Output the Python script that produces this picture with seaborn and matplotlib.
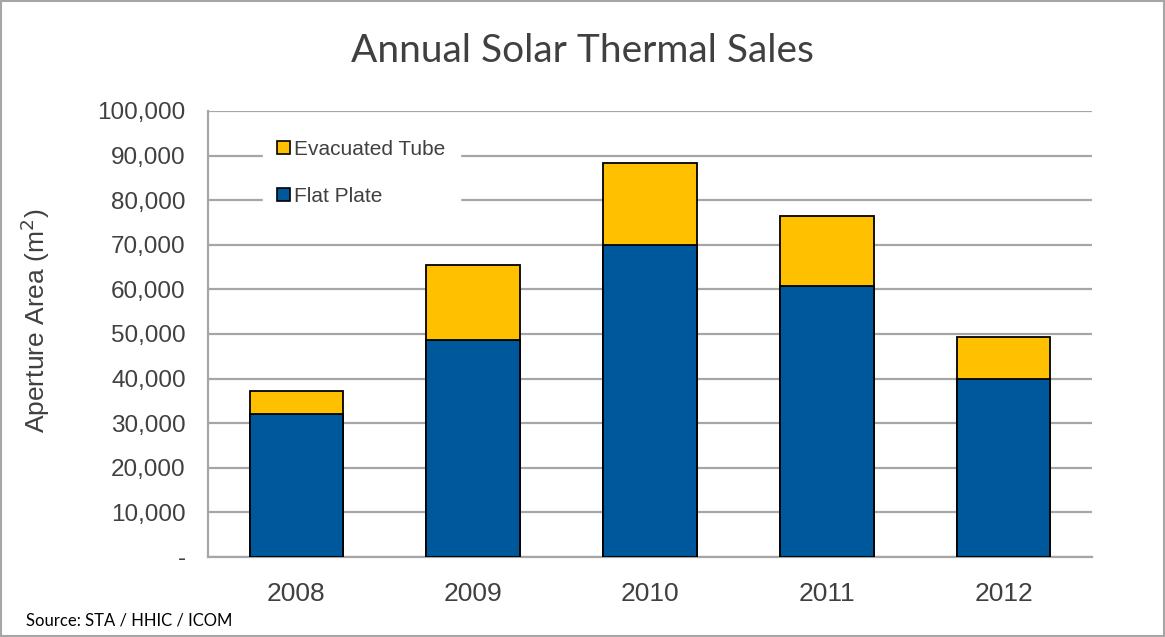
import matplotlib
matplotlib.use('Agg')
import matplotlib.pyplot as plt
import matplotlib.ticker as mticker
from matplotlib.patches import Patch
import seaborn as sns
import pandas as pd
import numpy as np

years = ['2008', '2009', '2010', '2011', '2012']
flat_plate = [32100, 48600, 70000, 60700, 39800]
evacuated_tube = [5200, 16900, 18300, 15800, 9600]

BLUE = '#00589C'
YELLOW = '#FFC000'
GREY = '#A6A6A6'
TEXT = '#404040'

sns.set_theme(style='white')
plt.rcParams['font.family'] = ['Liberation Sans', 'DejaVu Sans']

df = pd.DataFrame({'Year': years, 'Flat Plate': flat_plate, 'Evacuated Tube': evacuated_tube})
df['Total'] = df['Flat Plate'] + df['Evacuated Tube']

fig = plt.figure(figsize=(11.65, 6.37), dpi=100)
ax = fig.add_axes([208 / 1165, 1 - 557 / 637, 884 / 1165, 446 / 637])

# stacked: draw totals first, flat plate over them
sns.barplot(data=df, x='Year', y='Total', color=YELLOW, width=0.53,
            edgecolor='black', linewidth=1.3, saturation=1, ax=ax, zorder=3)
sns.barplot(data=df, x='Year', y='Flat Plate', color=BLUE, width=0.53,
            edgecolor='black', linewidth=1.3, saturation=1, ax=ax, zorder=3)

ax.set_ylim(0, 100000)
ax.set_xlim(-0.5, 4.5)
ax.yaxis.set_major_locator(mticker.MultipleLocator(10000))
ax.yaxis.set_major_formatter(mticker.FuncFormatter(lambda v, p: '-' if v == 0 else f'{int(v):,}'))
ax.grid(axis='y', color=GREY, linewidth=1.6, zorder=0)
ax.set_axisbelow(True)

for s in ['top', 'right']:
    ax.spines[s].set_visible(False)
for s in ['left', 'bottom']:
    ax.spines[s].set_color(GREY)
    ax.spines[s].set_linewidth(1.6)

ax.set_xticks(np.arange(5))
ax.set_xticklabels(years)
ax.set_xticks(np.arange(-0.5, 5.0, 1.0), minor=True)
ax.tick_params(axis='x', which='major', length=0, pad=18, labelsize=19, labelcolor=TEXT)
ax.tick_params(axis='x', which='minor', length=8, width=1.6, color=GREY, direction='out')
ax.tick_params(axis='y', length=8, width=1.6, color=GREY, direction='out',
               labelsize=17.5, labelcolor=TEXT, pad=8)
ax.set_xlabel('')
ax.set_ylabel('Aperture Area (m$^2$)', fontsize=19, color=TEXT)
ax.yaxis.set_label_coords(-0.176, 0.53)

handles = [Patch(facecolor=YELLOW, edgecolor='black', linewidth=1.2, label='Evacuated Tube'),
           Patch(facecolor=BLUE, edgecolor='black', linewidth=1.2, label='Flat Plate')]
leg = ax.legend(handles=handles, loc='upper left', bbox_to_anchor=(0.062, 0.968),
                frameon=True, fontsize=15, handlelength=0.6, handleheight=0.6,
                handletextpad=0.2, labelspacing=1.35, borderpad=0.7, borderaxespad=0,
                fancybox=False)
leg.get_frame().set_facecolor('white')
leg.get_frame().set_edgecolor('white')
leg.get_frame().set_alpha(1)
for t in leg.get_texts():
    t.set_color(TEXT)
leg.set_zorder(5)

fig.text(0.5, 1 - 51 / 637, 'Annual Solar Thermal Sales', ha='center', va='center',
         fontsize=28, color=TEXT, family=['Lato', 'DejaVu Sans'])
fig.text(26 / 1165, 1 - 621 / 637, 'Source: STA / HHIC / ICOM', ha='left', va='center',
         fontsize=12, color='black', family=['Lato', 'DejaVu Sans'])

fig.patches.append(plt.Rectangle((0.001, 0.001), 0.998, 0.997, transform=fig.transFigure,
                                 fill=False, edgecolor=GREY, linewidth=1.5))

fig.savefig('out.png', dpi=100)
